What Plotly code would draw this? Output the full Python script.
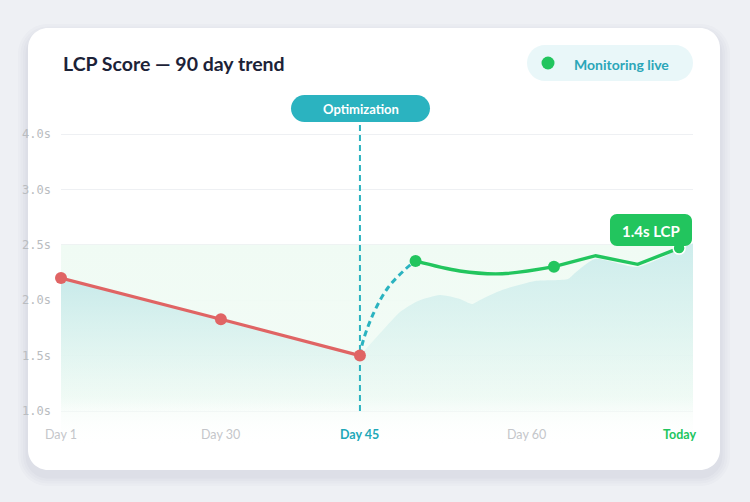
import plotly.graph_objects as go

W, H = 750, 502

# ---------------- data ----------------
y_tick_labels = ["1.0s", "1.5s", "2.0s", "2.5s", "3.0s", "4.0s"]
y_tick_pos = [0, 1, 2, 3, 4, 5]

x_tick_labels = ["Day 1", "Day 30", "Day 45", "Day 60", "Today"]
x_tick_pos = [0, 25.3, 47.3, 73.7, 97.8]

before_x = [0, 25.3, 47.3]
before_y = [2.40, 1.655, 1.0]

transition_x = [47.3, 47.8, 49.4, 51.7, 54.7, 56.1]
transition_y = [1.0, 1.264, 1.751, 2.22, 2.581, 2.708]

after_curve_x = [56.1, 63.1, 69.8, 78.0]
after_curve_y = [2.708, 2.527, 2.478, 2.605]
after_line_x = [78.0, 84.6, 91.25, 97.8]
after_line_y = [2.605, 2.803, 2.648, 2.94]

after_marker_x = [56.1, 78.0]
after_marker_y = [2.708, 2.605]
current_x = [97.8]
current_y = [2.94]

area_x = [47.3, 50.95, 53.64, 56.49, 59.97, 63.13, 65.03, 66.3, 69.78, 75.0, 80.22, 81.33, 84.49, 91.14, 97.94, 100]
area_y = [1.0, 1.462, 1.787, 1.986, 2.094, 2.022, 1.931, 2.004, 2.184, 2.347, 2.383, 2.491, 2.744, 2.599, 2.924, 3.03]

good_zone_top = 3  # 2.5s threshold

event_x = 47.3
event_label = "Optimization"
current_label = "1.4s LCP"

# ---------------- colors ----------------
TEAL = "#2bb3c0"
RED = "#e06464"
GREEN = "#22c55e"
TITLE = "#1c2237"
GRID = "#eef0f3"
TICK = "#c4c6ca"

# ---------------- helpers ----------------
def px(x):
    return x / W

def py(y):
    return 1 - y / H

def rrect(x0, y0, x1, y1, r):
    k = 0.5523 * r
    pts = [
        ("M", [(x0 + r, y0)]),
        ("L", [(x1 - r, y0)]),
        ("C", [(x1 - r + k, y0), (x1, y0 + r - k), (x1, y0 + r)]),
        ("L", [(x1, y1 - r)]),
        ("C", [(x1, y1 - r + k), (x1 - r + k, y1), (x1 - r, y1)]),
        ("L", [(x0 + r, y1)]),
        ("C", [(x0 + r - k, y1), (x0, y1 - r + k), (x0, y1 - r)]),
        ("L", [(x0, y0 + r)]),
        ("C", [(x0, y0 + r - k), (x0 + r - k, y0), (x0 + r, y0)]),
    ]
    s = ""
    for cmd, ps in pts:
        s += cmd + " " + " ".join(f"{px(a):.5f},{py(b):.5f}" for a, b in ps) + " "
    return s + "Z"

# plot area in pixels
PL, PR = 61, 693
PT, PB = 100, 447
UNIT = 55.4
ZERO_PX = 411
y_lo = (ZERO_PX - PB) / UNIT
y_hi = (ZERO_PX - PT) / UNIT
pill_bottom = (ZERO_PX - 122) / UNIT

fig = go.Figure()

# good-zone band
fig.add_trace(go.Scatter(
    x=[0, 100, 100, 0], y=[good_zone_top, good_zone_top, y_lo, y_lo],
    fill="toself", mode="lines", line=dict(width=0),
    fillgradient=dict(type="vertical",
                      colorscale=[[0, "rgba(255,255,255,0)"], [0.25, "rgba(240,251,244,0.8)"], [1, "rgba(240,251,244,1)"]],
                      start=y_lo, stop=good_zone_top),
    hoverinfo="skip", showlegend=False))

# area under "before" line
fig.add_trace(go.Scatter(
    x=before_x, y=before_y, mode="lines", line=dict(width=0, shape="spline", smoothing=0.6),
    fill="tozeroy",
    fillgradient=dict(type="vertical",
                      colorscale=[[0, "rgba(214,240,236,0)"], [0.45, "rgba(208,238,236,0.5)"], [1, "rgba(200,234,234,1)"]],
                      start=0, stop=2.4),
    hoverinfo="skip", showlegend=False))

# area after optimization
fig.add_trace(go.Scatter(
    x=area_x, y=area_y, mode="lines", line=dict(width=0, shape="spline", smoothing=0.6),
    fill="tozeroy",
    fillgradient=dict(type="vertical",
                      colorscale=[[0, "rgba(214,240,236,0.05)"], [0.45, "rgba(208,238,236,0.5)"], [1, "rgba(204,236,236,0.95)"]],
                      start=0, stop=3.0),
    hoverinfo="skip", showlegend=False))

# event marker line
fig.add_trace(go.Scatter(
    x=[event_x, event_x], y=[0, pill_bottom], mode="lines",
    line=dict(color=TEAL, width=2, dash="6px,4px"),
    cliponaxis=False, hoverinfo="skip", showlegend=False))

# transition dashed curve
fig.add_trace(go.Scatter(
    x=transition_x, y=transition_y, mode="lines",
    line=dict(color=TEAL, width=3, dash="6px,4px", shape="spline", smoothing=1),
    hoverinfo="skip", showlegend=False))

# before line
fig.add_trace(go.Scatter(
    x=before_x, y=before_y, mode="lines+markers",
    line=dict(color=RED, width=3.2, shape="spline", smoothing=0.6),
    marker=dict(size=12, color=RED, opacity=1),
    cliponaxis=False, hoverinfo="skip", showlegend=False))

# after lines
fig.add_trace(go.Scatter(
    x=after_curve_x, y=after_curve_y, mode="lines",
    line=dict(color=GREEN, width=3.4, shape="spline", smoothing=1),
    hoverinfo="skip", showlegend=False))
fig.add_trace(go.Scatter(
    x=after_line_x, y=after_line_y, mode="lines",
    line=dict(color=GREEN, width=3.4),
    hoverinfo="skip", showlegend=False))
fig.add_trace(go.Scatter(
    x=after_marker_x, y=after_marker_y, mode="markers",
    marker=dict(size=12, color=GREEN, opacity=1, line=dict(width=0)),
    cliponaxis=False, hoverinfo="skip", showlegend=False))
fig.add_trace(go.Scatter(
    x=current_x, y=current_y, mode="markers",
    marker=dict(size=12, color=GREEN, opacity=1, line=dict(color="#ffffff", width=1.5)),
    cliponaxis=False, hoverinfo="skip", showlegend=False))

shapes = []
# background shadow + card
for i, a in enumerate([0.018, 0.018, 0.02, 0.025]):
    g = 10 - i * 2.5
    shapes.append(dict(type="path", path=rrect(28 - g, 28 - g + 6, 720 + g, 470 + g + 6, 20 + g),
                       xref="paper", yref="paper", fillcolor=f"rgba(40,50,90,{a})", line=dict(width=0), layer="below"))
shapes.append(dict(type="path", path=rrect(28, 28, 720, 470, 20), xref="paper", yref="paper",
                   fillcolor="#ffffff", line=dict(width=0), layer="below"))
# Optimization pill
shapes.append(dict(type="path", path=rrect(291, 95, 430, 122, 13.5), xref="paper", yref="paper",
                   fillcolor=TEAL, line=dict(width=0), layer="above"))
# Monitoring live pill
shapes.append(dict(type="path", path=rrect(527, 45, 693, 81, 18), xref="paper", yref="paper",
                   fillcolor="#e9f7f9", line=dict(width=0), layer="above"))
shapes.append(dict(type="circle", xref="paper", yref="paper", x0=px(541.5), x1=px(554.5), y0=py(69.5), y1=py(56.5),
                   fillcolor=GREEN, line=dict(width=0), layer="above"))
# current value label
shapes.append(dict(type="path", path=rrect(610, 214, 692, 246, 7), xref="paper", yref="paper",
                   fillcolor=GREEN, line=dict(width=0), layer="above"))

FONT = "Lato, 'Noto Sans', sans-serif"
annotations = [
    dict(text="<b>LCP Score — 90 day trend</b>", x=px(61), y=py(63), xref="paper", yref="paper",
         xanchor="left", yanchor="middle", showarrow=False, font=dict(family=FONT, size=19.5, color=TITLE)),
    dict(text="<b>Monitoring live</b>", x=px(572), y=py(64), xref="paper", yref="paper",
         xanchor="left", yanchor="middle", showarrow=False, font=dict(family=FONT, size=14, color="#2ba6b8")),
    dict(text=f"<b>{event_label}</b>", x=px(360.5), y=py(109), xref="paper", yref="paper",
         xanchor="center", yanchor="middle", showarrow=False, font=dict(family=FONT, size=13, color="#ffffff")),
    dict(text=f"<b>{current_label}</b>", x=px(651), y=py(230.5), xref="paper", yref="paper",
         xanchor="center", yanchor="middle", showarrow=False, font=dict(family=FONT, size=15, color="#ffffff")),
]
label_y = (ZERO_PX - 434) / UNIT
for lbl, pos in zip(x_tick_labels, x_tick_pos):
    if lbl == "Day 45":
        txt, col = f"<b>{lbl}</b>", "#1fa8b8"
    elif lbl == "Today":
        txt, col = f"<b>{lbl}</b>", GREEN
    else:
        txt, col = lbl, TICK
    annotations.append(dict(text=txt, x=pos, y=label_y, xref="x", yref="y", xanchor="center", yanchor="middle",
                            showarrow=False, font=dict(family=FONT, size=12.5, color=col)))

fig.update_layout(
    width=W, height=H, margin=dict(l=0, r=0, t=0, b=0),
    paper_bgcolor="#eef0f4", plot_bgcolor="rgba(0,0,0,0)",
    shapes=shapes, annotations=annotations,
    xaxis=dict(domain=[px(PL), px(PR)], range=[0, 100], showgrid=False, zeroline=False,
               showticklabels=False, showline=False, fixedrange=True),
    yaxis=dict(domain=[py(PB), py(PT)], range=[y_lo, y_hi], tickvals=y_tick_pos, ticktext=y_tick_labels,
               showgrid=True, gridcolor=GRID, gridwidth=1, zeroline=False, showline=False,
               ticks="", ticklabelstandoff=9,
               tickfont=dict(family="'DejaVu Sans Mono', monospace", size=12, color="#b9bcc0"), fixedrange=True),
    hovermode=False,
)

fig.write_html("out.html", config={"displayModeBar": False},
               post_script="document.body.style.margin='0';document.body.style.padding='0';document.body.style.overflow='hidden';")
